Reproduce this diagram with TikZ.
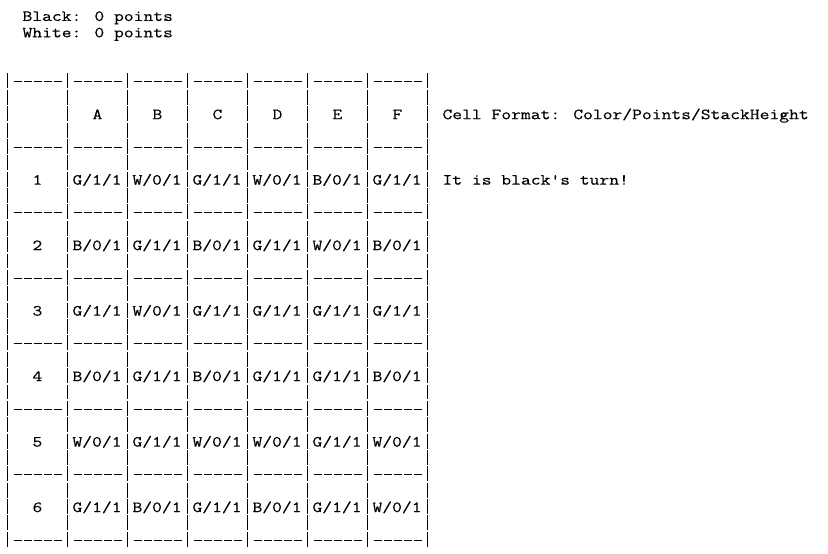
\documentclass[tikz,border=0pt]{standalone}
\usepackage{fontspec}
\newfontfamily\confont[Ligatures=TeXOff,FakeBold=0.35,FakeStretch=1.2289]{Latin Modern Mono}
\begin{document}
\begin{tikzpicture}[x=10pt,y=-16.37pt,
  txt/.style={font=\confont\fontsize{15.5pt}{16.37pt}\selectfont,
    text=black, inner sep=0pt, outer sep=0pt, anchor=base west},
  vbar/.style={line width=1pt, dash pattern=on 14.9pt off 1.47pt},
  hdash/.style={line width=1pt, dash pattern=on 8pt off 2pt, dash phase=9pt}]
\useasboundingbox[fill=white] (-0.75,-0.9896) rectangle (82.05,32.853);
% score lines
\node[txt] (black) at (1.5,0.29) {Black: 0 points};
\node[txt] (white) at (1.5,1.29) {White: 0 points};
% vertical bars of the grid
\foreach \k in {0,...,7}
  \draw[vbar] ({6*\k},3.5) -- ({6*\k},32.5);
% horizontal dashed borders
\foreach \r in {0,...,7}
  \foreach \k in {0,...,6}
    \draw[hdash] ({6*\k+0.5},{4+4*\r}) -- ({6*\k+5.5},{4+4*\r});
% column headers
\foreach \h [count=\k from 0] in {A,B,C,D,E,F}
  \node[txt] (h\h) at ({8.5+6*\k},6.29) {\h};
% rows
\foreach \row [count=\r] in {
  {G/1/1,W/0/1,G/1/1,W/0/1,B/0/1,G/1/1},
  {B/0/1,G/1/1,B/0/1,G/1/1,W/0/1,B/0/1},
  {G/1/1,W/0/1,G/1/1,G/1/1,G/1/1,G/1/1},
  {B/0/1,G/1/1,B/0/1,G/1/1,G/1/1,B/0/1},
  {W/0/1,G/1/1,W/0/1,W/0/1,G/1/1,W/0/1},
  {G/1/1,B/0/1,G/1/1,B/0/1,G/1/1,W/0/1}}{
  \node[txt] (r\r) at (2.5,{6.29+4*\r}) {\r};
  \foreach \cell [count=\k from 0] in \row
    \node[txt] (c\r-\k) at ({6.5+6*\k},{6.29+4*\r}) {\cell};
}
% side texts
\node[txt] (format) at (43.5,6.29) {Cell Format: Color/Points/StackHeight};
\node[txt] (turn) at (43.5,10.29) {It is black's turn!};
\end{tikzpicture}
\end{document}
